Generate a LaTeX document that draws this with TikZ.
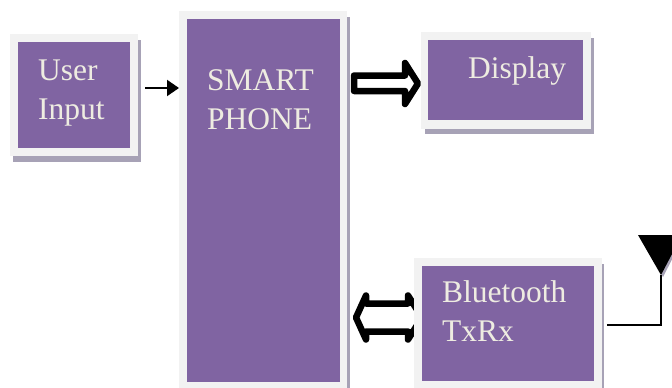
\documentclass[tikz,border=0pt]{standalone}
\usepackage{fontspec}
\setmainfont{Liberation Serif}
\usetikzlibrary{arrows.meta}
\definecolor{boxpurple}{HTML}{8064A2}
\definecolor{boxframe}{HTML}{F2F2F2}
\definecolor{boxshadow}{HTML}{A7A2B6}
\definecolor{boxtext}{HTML}{EEECE1}
\begin{document}
\begin{tikzpicture}[x=1pt,y=-1pt,
  purplebox/.style={fill=boxpurple,draw=none,inner sep=0pt,outer sep=0pt},
  boxlabel/.style={text=boxtext,inner sep=0pt,anchor=base west,font=\fontsize{31.5}{38}\selectfont},
  blockarrow/.style={draw=black,line width=6.5pt,line join=round,fill=white},
  thinline/.style={draw=black,line width=2pt},
]
\useasboundingbox (0,0) rectangle (672,388);
% block arrows (drawn first so frames cover their ends)
\draw[blockarrow] (354,75.5) -- (405,75.5) -- (405,63) -- (418,83.5) -- (405,104) -- (405,91) -- (354,91) -- cycle;
\draw[blockarrow] (356,317.5) -- (366,295.5) -- (366,303.5) -- (408,303.5) -- (408,295.5) -- (422,317.5) -- (408,339.5) -- (408,331.5) -- (366,331.5) -- (366,339.5) -- cycle;
% shadows
\fill[boxshadow] (12.5,40) rectangle (140.5,162);
\fill[boxshadow] (181.5,17) rectangle (349.5,394);
\fill[boxshadow] (424.5,38) rectangle (593.5,134);
\fill[boxshadow] (416.5,264) rectangle (603.5,394);
% frames
\fill[boxframe] (10,34) rectangle (138,156);
\fill[boxframe] (179,11) rectangle (347,388);
\fill[boxframe] (421,32) rectangle (591,129);
\fill[boxframe] (414,258) rectangle (601.5,394);
% purple boxes
\node[purplebox,minimum width=112pt,minimum height=106pt] (user) at (74,95) {};
\node[purplebox,minimum width=153pt,minimum height=363pt] (phone) at (263.5,200.5) {};
\node[purplebox,minimum width=155pt,minimum height=80pt] (display) at (505.5,80) {};
\node[purplebox,minimum width=172pt,minimum height=115pt] (bt) at (508,323.5) {};
% labels
\node[boxlabel] (userA) at (38,80) {User};
\node[boxlabel] (userB) at (38,119) {Input};
\node[boxlabel] (phoneA) at (207,90) {SMART};
\node[boxlabel] (phoneB) at (207,129) {PHONE};
\node[boxlabel] (displayA) at (468,78) {Display};
\node[boxlabel] (btA) at (442,302) {Bluetooth};
\node[boxlabel] (btB) at (442,341) {TxRx};
% input arrow
\coordinate (inStart) at (145,88);
\coordinate (inEnd) at (phone.west |- inStart);
\draw[thinline,-{Triangle[length=12pt,width=16pt]}] (inStart) -- ([xshift=-8pt]inEnd);
% antenna
\coordinate (antA) at (607,325);
\coordinate (antB) at (661,325);
\coordinate (antC) at (661,275);
\fill[boxshadow] (640,236) -- (684,236) -- (663,277) -- cycle;
\fill[black] (638,235) -- (682,235) -- (661,275) -- cycle;
\draw[thinline] (antA) -- (antB) -- (antC);
\end{tikzpicture}
\end{document}
